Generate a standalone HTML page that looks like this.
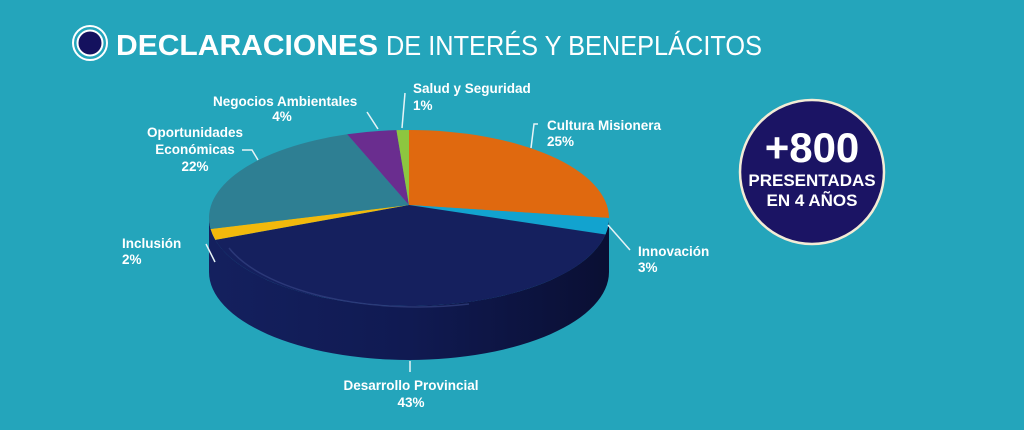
<!DOCTYPE html>
<html><head><meta charset="utf-8"><style>
html,body{margin:0;padding:0;background:#24a5bb;}
body{width:1024px;height:425px;overflow:hidden;position:relative;font-family:"Liberation Sans","DejaVu Sans",sans-serif;}
</style></head><body>
<svg id="s" width="1024" height="425" viewBox="0 0 1024 425" xmlns="http://www.w3.org/2000/svg">
<defs>
<linearGradient id="side" x1="0" y1="0" x2="1" y2="0">
<stop offset="0" stop-color="#14205e"/><stop offset="0.5" stop-color="#101a52"/><stop offset="1" stop-color="#0a0f33"/>
</linearGradient>
</defs>
<rect width="1024" height="425" fill="#24a5bb"/>
<circle cx="90" cy="43" r="17" fill="none" stroke="#fff" stroke-width="2"/>
<circle cx="90" cy="43" r="12.5" fill="#14115e" stroke="#fff" stroke-width="2"/>
<text x="116" y="55" fill="#fff" font-size="29" font-weight="bold" font-family="Liberation Sans, sans-serif" textLength="262" lengthAdjust="spacingAndGlyphs">DECLARACIONES</text>
<text x="386" y="55" fill="#fff" font-size="28" font-family="Liberation Sans, sans-serif" textLength="376" lengthAdjust="spacingAndGlyphs">DE INTERÉS Y BENEPLÁCITOS</text>
<g id="pie"></g>
<g stroke="#e6f3f6" stroke-width="1.5" fill="none">
<path d="M367 112 L378 129"/>
<path d="M405 93 L402 128"/>
<path d="M538 124 L534 124 L531 148"/>
<path d="M242 150 L252 150 L258 160"/>
<path d="M608 225 L630 250"/>
<path d="M206 244 L215 262"/>
<path d="M410 361 L410 372"/>
</g>
<g fill="#fff" font-weight="bold" font-size="13.5" font-family="Liberation Sans, sans-serif">
<text x="213" y="106">Negocios Ambientales</text><text x="282" y="121" text-anchor="middle">4%</text>
<text x="413" y="93">Salud y Seguridad</text><text x="413" y="110">1%</text>
<text x="547" y="130">Cultura Misionera</text><text x="547" y="146">25%</text>
<text x="195" y="137" text-anchor="middle">Oportunidades</text><text x="195" y="154" text-anchor="middle">Económicas</text><text x="195" y="171" text-anchor="middle">22%</text>
<text x="122" y="248">Inclusión</text><text x="122" y="264">2%</text>
<text x="638" y="256">Innovación</text><text x="638" y="272">3%</text>
<text x="411" y="390" text-anchor="middle">Desarrollo Provincial</text><text x="411" y="407" text-anchor="middle">43%</text>
</g>
<circle cx="812" cy="172" r="72" fill="#1b1464" stroke="#f3ecd6" stroke-width="2.5"/>
<g fill="#fff" font-weight="bold" text-anchor="middle" font-family="Liberation Sans, sans-serif">
<text x="812" y="162" font-size="42">+800</text>
<text x="812" y="186" font-size="17">PRESENTADAS</text>
<text x="812" y="206" font-size="17">EN 4 AÑOS</text>
</g>
</svg>
<script>
(function(){
var cx=409,cy=218,rx=200,ry=88,d=54,vx=409,vy=205;
var g=document.getElementById('pie'),ns='http://www.w3.org/2000/svg';
function P(t){t=t*Math.PI/180;return [cx+rx*Math.sin(t),cy-ry*Math.cos(t)];}
function add(dd,f){var p=document.createElementNS(ns,'path');p.setAttribute('d',dd);p.setAttribute('fill',f);g.appendChild(p);}
var s='M'+(cx-rx)+' '+cy+' L'+(cx-rx)+' '+(cy+d)+' A'+rx+' '+ry+' 0 0 0 '+(cx+rx)+' '+(cy+d)+' L'+(cx+rx)+' '+cy+' A'+rx+' '+ry+' 0 0 1 '+(cx-rx)+' '+cy+'Z';
add(s,'url(#side)');
var data=[[25,'#e0690f'],[3,'#12a3cf'],[43,'#15205e'],[2,'#f2b90c'],[22,'#2e7f93'],[4,'#6a2d8f'],[1,'#8dc63f']];
var a=0;
data.forEach(function(v){
 var a2=a+v[0]*3.6,p1=P(a),p2=P(a2);
 add('M'+vx+' '+vy+' L'+p1[0]+' '+p1[1]+' A'+rx+' '+ry+' 0 '+(a2-a>180?1:0)+' 1 '+p2[0]+' '+p2[1]+'Z',v[1]);
 a=a2;
});
var h=document.createElementNS(ns,'path');
h.setAttribute('d','M'+(cx-rx+20)+' '+(cy+30)+' A'+rx+' '+ry+' 0 0 0 '+(cx+60)+' '+(cy+ry-2));
h.setAttribute('stroke','#3a4a8a');h.setAttribute('stroke-width','1.5');h.setAttribute('fill','none');h.setAttribute('opacity','0.6');
g.appendChild(h);
})();
</script>
</body></html>
